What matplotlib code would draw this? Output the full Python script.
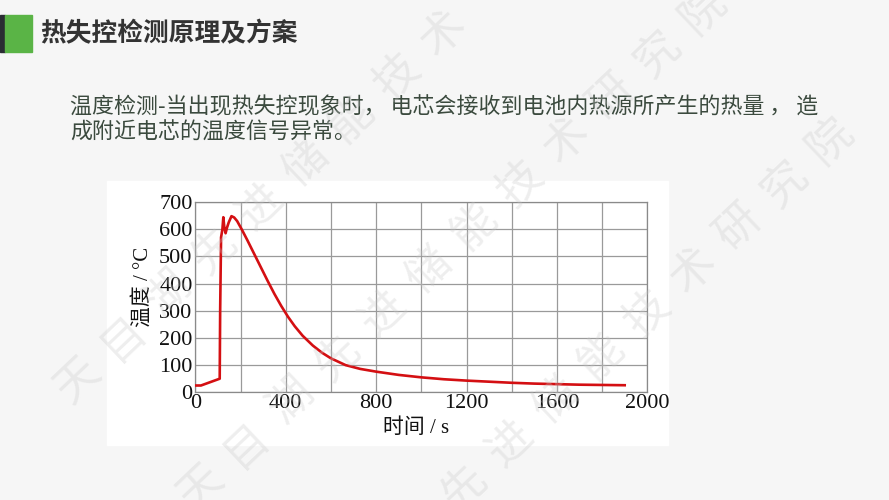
import math

import matplotlib
matplotlib.use("Agg")
import matplotlib.pyplot as plt
from matplotlib.patches import Rectangle

# curve: time in s, temperature in degC
time_s = [0, 25, 108, 110, 114, 120, 124, 128, 134, 140, 148, 160, 172, 185, 205,
          230, 260, 290, 320, 350, 380, 410, 440, 475, 520, 560, 600, 665, 730, 800,
          900, 1000, 1100, 1200, 1300, 1400, 1500, 1600, 1700, 1800, 1900]
temp_c = [25, 25, 50, 300, 570, 600, 644, 610, 585, 605, 625, 648, 643, 630, 600,
          560, 510, 460, 410, 362, 318, 278, 243, 208, 172, 146, 125, 100, 86, 76,
          64, 55, 48, 43, 39, 35, 32, 30, 28, 27, 26]

x_major = [0, 400, 800, 1200, 1600, 2000]
x_minor = [200, 600, 1000, 1400, 1800]
y_ticks = [0, 100, 200, 300, 400, 500, 600, 700]

title = "热失控检测原理及方案"
para_lines = ["温度检测-当出现热失控现象时， 电芯会接收到电池内热源所产生的热量 ， 造",
              "成附近电芯的温度信号异常。"]
watermark = "天目湖先进储能技术研究院"

W, H = 889, 500
CJK = "Noto Sans CJK SC"
SERIF = ["Liberation Serif", CJK]


def fx(x):
    return x / W


def fy(y):
    return 1 - y / H


fig = plt.figure(figsize=(W / 100, H / 100), dpi=100)
fig.patch.set_facecolor("#f6f6f6")

# header bar + title
fig.patches.append(Rectangle((0, fy(52)), fx(5), 37 / H, transform=fig.transFigure,
                             color="#2a2d33", zorder=1))
fig.patches.append(Rectangle((fx(5), fy(52)), fx(27), 37 / H, transform=fig.transFigure,
                             color="#5ab446", zorder=1))
fig.text(fx(40), fy(34), title, fontsize=18.5, fontweight="bold", color="#333333",
         family=CJK, va="center")

for i, line in enumerate(para_lines):
    fig.text(fx(70), fy(107 + 26 * i), line, fontsize=15.8, color="#3b4a3e",
             family=CJK, va="center")

# white panel behind the chart
fig.patches.append(Rectangle((fx(107), fy(445)), 561 / W, 264 / H,
                             transform=fig.transFigure, color="white", zorder=0))

ax = fig.add_axes([fx(195.3), fy(392.3), 452 / W, 190.3 / H])
ax.set_zorder(2)
ax.set_facecolor("white")
ax.plot(time_s, temp_c, color="#d40f12", lw=1.9, zorder=3)
ax.set_xlim(0, 2000)
ax.set_ylim(0, 700)
ax.set_xticks(x_major)
ax.set_xticks(x_minor, minor=True)
ax.set_yticks(y_ticks)
ax.grid(True, which="both", color="#9a9a9a", lw=0.9)
ax.set_axisbelow(True)
ax.tick_params(which="both", length=0)
ax.tick_params(axis="y", pad=2)
ax.tick_params(axis="x", pad=1.5)
for lab in ax.get_xticklabels() + ax.get_yticklabels():
    lab.set_family("Liberation Serif")
    lab.set_fontsize(16)
    lab.set_color("#111111")
for sp in ax.spines.values():
    sp.set_color("#8a8a8a")
    sp.set_linewidth(0.9)

fig.text(fx(143), fy(287), "温度 / °C", rotation=90, fontsize=15, family=SERIF,
         ha="center", va="center", color="#111111")
fig.text(fx(416), fy(428), "时间 / s", fontsize=15, family=SERIF,
         ha="center", va="center", color="#111111")

# diagonal watermark, one glyph at a time
ang = 43.5
step = 63
dx = step * math.cos(math.radians(ang))
dy = step * math.sin(math.radians(ang))
starts = [(77, 380), (200, 487), (327, 617)]
for sx, sy in starts:
    for k, ch in enumerate(watermark):
        px, py = sx + k * dx, sy - k * dy
        if 0 < px < W and 0 < py < H:
            fig.text(fx(px), fy(py), ch, fontsize=32, family=CJK, fontweight="light",
                     color="#c8c8c8", alpha=0.3, rotation=ang,
                     ha="center", va="center", zorder=5)

fig.savefig("out.png", dpi=100, facecolor=fig.get_facecolor())
